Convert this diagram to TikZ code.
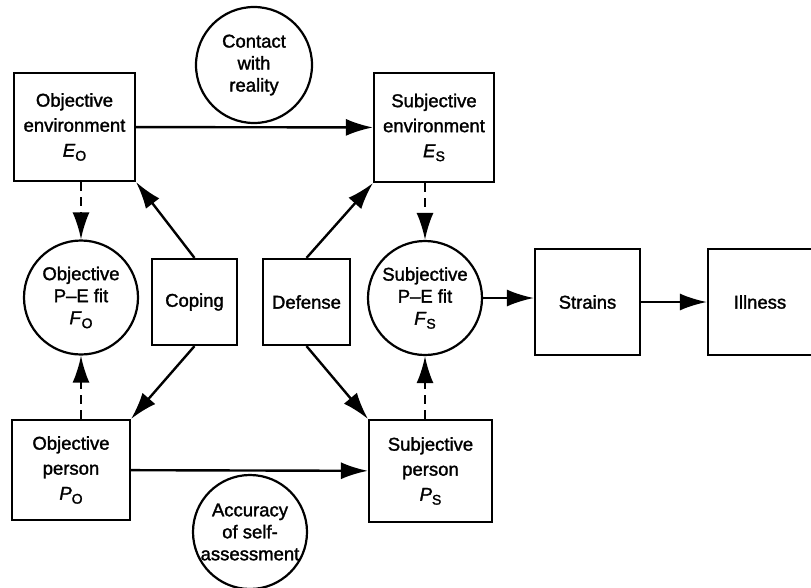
\documentclass[tikz,border=0pt]{standalone}
\usepackage{fontspec}
\setmainfont{Liberation Sans}[RawFeature={embolden=1.6}]
\usetikzlibrary{arrows.meta}
\newcommand{\varsub}[2]{\textit{#1}\raisebox{-4pt}{\fontsize{14}{14}\selectfont #2}}
\begin{document}
\begin{tikzpicture}[x=1pt,y=-1pt,
  every node/.style={font=\fontsize{18.5}{25}\selectfont, align=center, line width=2.2pt},
  box/.style={draw, rectangle, inner sep=0pt},
  circ/.style={draw, circle, minimum size=114pt, inner sep=0pt, font=\fontsize{18.5}{22}\selectfont},
  arr/.style={line width=2.4pt, -{Latex[length=27pt,width=17pt]}},
  darr/.style={arr, dash pattern=on 9pt off 6pt}]
\useasboundingbox (0,0) rectangle (811,587);
\node[box, minimum width=121pt, minimum height=108pt] (oe) at (74.5,127) {Objective\\environment\\\varsub{E}{O}};
\node[box, minimum width=120pt, minimum height=109pt] (se) at (434,127.5) {Subjective\\environment\\\varsub{E}{S}};
\node[box, minimum width=118pt, minimum height=100pt] (op) at (71,470) {Objective\\person\\\varsub{P}{O}};
\node[box, minimum width=123pt, minimum height=102pt] (sp) at (430.5,471) {Subjective\\person\\\varsub{P}{S}};
\node[box, minimum width=85pt, minimum height=86pt] (cope) at (194.5,302) {Coping};
\node[box, minimum width=87pt, minimum height=86pt] (def) at (306.5,302) {Defense};
\node[box, minimum width=105pt, minimum height=106pt] (str) at (587.5,302) {Strains};
\node[box, minimum width=104pt, minimum height=106pt] (ill) at (760,302) {Illness};
\node[circ] (ofit) at (81,297.5) {Objective\\P--E fit\\\varsub{F}{O}};
\node[circ] (sfit) at (425,298) {Subjective\\P--E fit\\\varsub{F}{S}};
\node[circ, minimum size=116pt] (con) at (254,65) {Contact\\with\\reality};
\node[circ] (acc) at (250,532) {Accuracy\\of self-\\assessment};
% connectors
\draw[arr] (oe) -- (se);
\draw[arr] (op) -- (sp);
\draw[arr] (sfit.east) -- (sfit.east -| str.west);
\draw[arr] (str) -- (ill);
\draw[arr] (cope.north) -- (oe.south east);
\draw[arr] (cope.south) -- (op.north east);
\draw[arr] (def.north) -- (se.south west);
\draw[arr] (def.south) -- (sp.north west);
\draw[darr] (ofit.north |- oe.south) -- (ofit.north);
\draw[darr] (ofit.south |- op.north) -- (ofit.south);
\draw[darr] (sfit.north |- se.south) -- (sfit.north);
\draw[darr] (sfit.south |- sp.north) -- (sfit.south);
\end{tikzpicture}
\end{document}
